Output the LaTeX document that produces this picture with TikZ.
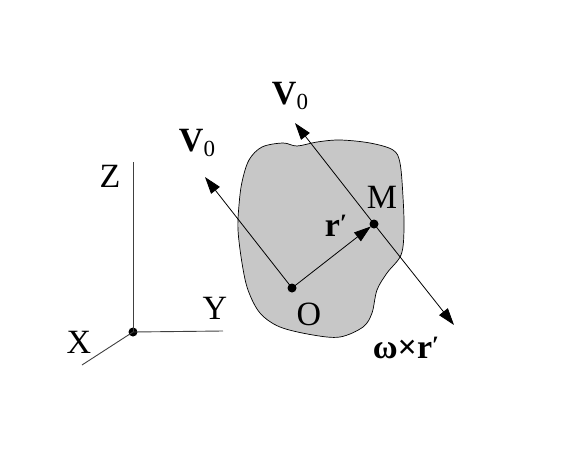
\documentclass[tikz,border=0pt]{standalone}
\usepackage{fontspec}
\setmainfont{Liberation Serif}
\usetikzlibrary{arrows.meta}
\begin{document}
\begin{tikzpicture}[x=1pt,y=-1pt,
  dot/.style={circle,fill=black,inner sep=0pt,minimum size=9pt},
  lbl/.style={inner sep=0pt,font=\fontsize{34}{38}\selectfont},
  axis/.style={line width=0.9pt,black!75},
  vec/.style={line width=0.8pt,-{Triangle[length=17pt,width=11pt]}}]
\useasboundingbox (0,0) rectangle (571,474);
% body
\draw[fill=black!22,line width=0.7pt] plot[smooth cycle,tension=0.55] coordinates{
 (249,160) (262,147) (283,143) (297,146) (317,142) (340,140) (370,143) (393,150)
 (400,163) (403,197) (404,230) (401,255) (387,273) (377,290) (372,313) (363,327)
 (340,337) (313,335) (280,327) (260,313) (248,290) (242,263) (238,230) (239,205) (242,182)};
% axes
\node[dot,minimum size=9pt] (A) at (133,332) {};
\coordinate (Ze) at (133,162);
\coordinate (Ye) at (223,331);
\coordinate (Xe) at (82,365);
\draw[axis] (A.center) -- (Ze);
\draw[axis] (A.center) -- (Ye);
\draw[axis] (A.center) -- (Xe);
\node[lbl] (Z) at (110,176) {Z};
\node[lbl] (Y) at (215,308) {Y};
\node[lbl] (X) at (79,342) {X};
% points
\node[dot] (O) at (292,288) {};
\node[dot] (M) at (374,224) {};
\node[lbl] (Ol) at (309,314) {O};
\node[lbl] (Ml) at (382,197) {M};
% vectors
\coordinate (V1) at (205,177);
\coordinate (V2) at (295,123);
\coordinate (W) at (454,325);
\draw[vec] (O.center) -- (V1);
\draw[vec,shorten >=4pt] (O.center) -- (M.center);
\draw[vec] (M.center) -- (V2);
\draw[vec] (M.center) -- (W);
\node[lbl] (V1l) at (197,143) {\textbf{V}\raisebox{-0.3ex}{\fontsize{23}{26}\selectfont 0}};
\node[lbl] (V2l) at (290,96) {\textbf{V}\raisebox{-0.3ex}{\fontsize{23}{26}\selectfont 0}};
\node[lbl] (rl) at (336,226) {\textbf{r}\raisebox{0.3ex}{\textbf{\fontsize{25}{26}\selectfont ′}}};
\node[lbl] (wl) at (406,348) {\textbf{ω×r}\raisebox{0.3ex}{\textbf{\fontsize{25}{26}\selectfont ′}}};
\end{tikzpicture}
\end{document}
